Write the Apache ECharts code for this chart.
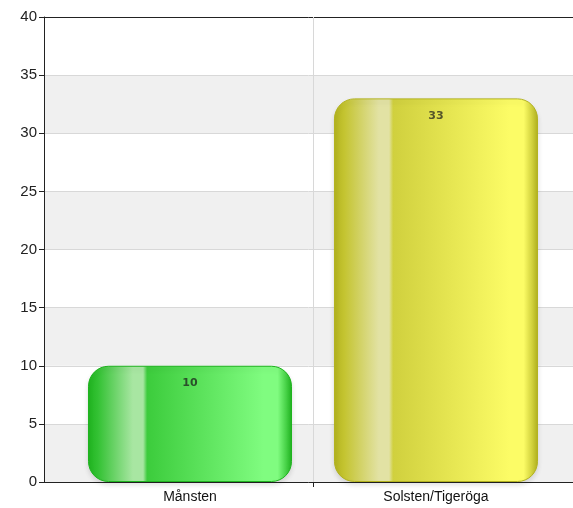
<!DOCTYPE html>
<html>
<head>
<meta charset="utf-8">
<script src="https://cdn.jsdelivr.net/npm/echarts@6/dist/echarts.min.js"></script>
<style>
  html, body { margin: 0; padding: 0; background: #fff; }
  #chart { width: 573px; height: 508px; }
</style>
</head>
<body>
<div id="chart"></div>
<script>
// data
const categories = ['Månsten', 'Solsten/Tigeröga'];
const values = [10, 33];
const yTicks = [0, 5, 10, 15, 20, 25, 30, 35, 40];

// bar colours: left edge, highlight strip, body, bright right side
const barPalettes = [
  { edge: '#1fb41f', dark: '#34c234', shine: '#a8e6a2', body: '#3ccc3c', bright: '#80fc80', label: '#2b4f2b' },
  { edge: '#b2b21e', dark: '#c4c430', shine: '#e2e2a4', body: '#d0d03e', bright: '#fcfc66', label: '#55552a' }
];

const positions = categories.map((c, i) => i + 1);

function barGradient(p) {
  return new echarts.graphic.LinearGradient(0, 0, 1, 0, [
    { offset: 0, color: p.edge },
    { offset: 0.05, color: p.dark },
    { offset: 0.22, color: p.shine },
    { offset: 0.27, color: p.shine },
    { offset: 0.29, color: p.body },
    { offset: 0.86, color: p.bright },
    { offset: 0.93, color: p.bright },
    { offset: 1, color: p.edge }
  ]);
}

const chart = echarts.init(document.getElementById('chart'), null, { renderer: 'canvas' });

const xMin = 0.4065, xMax = 2.557;

chart.setOption({
  animation: false,
  grid: { left: 44, right: 0, top: 17, bottom: 26 },
  xAxis: [
    {
      type: 'value',
      min: xMin,
      max: xMax,
      axisLine: { show: true, onZero: false, lineStyle: { color: '#222', width: 1 } },
      axisTick: { show: true, customValues: [1.5], length: 5, lineStyle: { color: '#222' } },
      axisLabel: {
        customValues: positions,
        formatter: v => categories[Math.round(v) - 1] || '',
        color: '#111',
        fontFamily: 'Liberation Sans',
        fontSize: 14,
        margin: 8
      },
      splitLine: { show: false }
    },
    {
      type: 'value',
      position: 'top',
      min: xMin,
      max: xMax,
      axisLine: { show: true, onZero: false, lineStyle: { color: '#222', width: 1 } },
      axisTick: { show: false },
      axisLabel: { show: false },
      splitLine: { show: false }
    }
  ],
  yAxis: {
    type: 'value',
    min: yTicks[0],
    max: yTicks[yTicks.length - 1],
    interval: 5,
    axisLine: { show: true, lineStyle: { color: '#222', width: 1 } },
    axisTick: { show: true, length: 5, lineStyle: { color: '#222' } },
    axisLabel: {
      color: '#222',
      fontFamily: 'Liberation Sans',
      fontSize: 15,
      margin: 7
    },
    splitLine: { show: true, lineStyle: { color: '#d8d8d8', width: 1 } },
    splitArea: { show: true, areaStyle: { color: ['#f0f0f0', '#ffffff'] } }
  },
  series: [
    {
      type: 'bar',
      barWidth: 204,
      data: values.map((v, i) => ({
        value: [positions[i], v],
        itemStyle: {
          color: barGradient(barPalettes[i]),
          borderRadius: 20,
          borderColor: barPalettes[i].edge,
          borderWidth: 1,
          shadowColor: 'rgba(0,0,0,0.12)',
          shadowBlur: 5,
          shadowOffsetY: 3
        },
        label: {
          show: true,
          position: 'insideTop',
          distance: 12,
          color: barPalettes[i].label,
          fontFamily: 'DejaVu Sans',
          fontWeight: 'bold',
          fontSize: 11
        }
      })),
      label: { formatter: p => p.value[1] },
      markLine: {
        silent: true,
        symbol: 'none',
        label: { show: false },
        lineStyle: { color: '#d8d8d8', type: 'solid', width: 1 },
        data: [{ xAxis: 1.5 }],
        z: 1
      }
    }
  ]
});
</script>
</body>
</html>
